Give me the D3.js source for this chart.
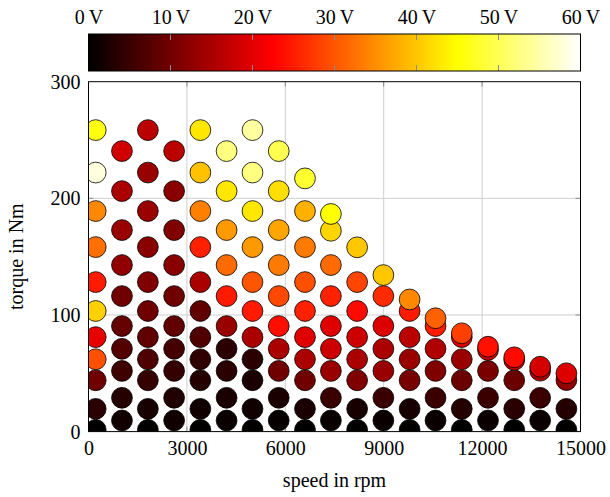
<!DOCTYPE html>
<html>
<head>
<meta charset="utf-8">
<script src="https://cdn.jsdelivr.net/npm/d3@7"></script>
<style>
  body { margin: 0; background: #fff; }
  text { font-family: "Liberation Serif", "DejaVu Serif", serif; }
</style>
</head>
<body>
<div id="chart"></div>
<script>
// operating points: speed of each column (rpm)
const speed = [220, 1020, 1810, 2610, 3410, 4210, 5000, 5800, 6600, 7390,
  8190, 8990, 9790, 10580, 11380, 12180, 12980, 13770, 14570]

// torque of each point in a column (Nm), low to high
const torque = [
  [1.5, 19.5, 44, 62, 81, 103.4, 128.2, 158.2, 189.1, 222.1, 258.5],
  [9.5, 29, 52, 71, 90.5, 116.2, 142.8, 172.8, 206.2, 240.5],
  [1.5, 19.5, 44, 62, 81, 103.4, 128.2, 158.2, 189.1, 222.1, 258.5],
  [9.5, 29, 52, 71, 90.5, 116.2, 142.8, 172.8, 206.2, 240.5],
  [1.5, 19.5, 44, 62, 81, 103.4, 128.2, 158.2, 189.1, 222.1, 258.5],
  [9.5, 29, 52, 71, 90.5, 116.2, 142.8, 172.8, 206.2, 240.5],
  [1.5, 19.5, 44, 62, 81, 103.4, 128.2, 158.2, 189.1, 222.1, 258.5],
  [9.5, 29, 52, 71, 90.5, 116.2, 142.8, 172.8, 206.2, 240.5],
  [1.5, 19.5, 44, 62, 81, 103.4, 128.2, 158.2, 189.1, 217.1],
  [9.5, 29, 52, 71, 90.5, 116.2, 142.8, 172.2, 186.6],
  [1.5, 19.5, 44, 62, 81, 103.4, 128.2, 158],
  [9.5, 29, 52, 71, 90.5, 116.2, 134.2],
  [1.5, 19.5, 44, 62, 81, 103.4, 113.3],
  [9.5, 29, 52, 71, 90.5, 97.2],
  [1.5, 19.5, 44, 62, 81, 84.3],
  [9.5, 29, 52, 70, 72.8],
  [1.5, 19.5, 44, 61.4, 63.7],
  [9.5, 29, 52.2, 55.6],
  [1.5, 19.5, 44.2, 50]
]

// voltage of each point (V), same order as torque
const voltage = [
  [0.3, 3.7, 9.9, 29.6, 20.5, 40.9, 24.8, 32.4, 34.5, 58, 45.8],
  [1.4, 3.3, 5.6, 7.5, 8.9, 9.9, 12.7, 13.5, 15, 18.4],
  [0.3, 1.9, 4.7, 7, 8.5, 9.9, 11.3, 12, 13.5, 13.5, 16.5],
  [1.4, 2.8, 4.7, 6, 8.5, 9.9, 12, 11.3, 12, 16.5],
  [0.3, 1.4, 3.3, 4.2, 7, 8.5, 15, 25.3, 33.8, 39.5, 42.9],
  [0.9, 2.3, 3.7, 3.7, 13.5, 24.8, 31.9, 36, 42.9, 52.5],
  [0.3, 1.4, 2.3, 3.7, 15, 24.8, 30, 36, 42.9, 52.5, 54.4],
  [0.5, 2.3, 9.9, 15, 23.7, 28.9, 33.3, 37.1, 42.2, 49.7],
  [0.3, 2.3, 9.9, 15, 19.8, 25.3, 29.6, 33.3, 38, 47.8],
  [0.9, 5.1, 13.5, 18, 19.8, 25.5, 31.9, 41.3, 45],
  [0.3, 1.9, 11.3, 15, 18, 23.4, 28.6, 40.1],
  [0.9, 5.1, 13.5, 15, 19.5, 26.2, 40.1],
  [0.3, 1.9, 10.5, 13.5, 16.5, 24.8, 34.5],
  [0.9, 5.1, 11.3, 15.5, 24.8, 31],
  [0.3, 3.3, 9.4, 13.5, 19.5, 28.1],
  [0.9, 5.1, 10.8, 18, 23.9],
  [0.3, 3.7, 9.4, 16.5, 23.4],
  [0.9, 5.1, 15, 18.7],
  [0.3, 3.3, 12.7, 19.5]
]

const speedTicks = [0, 3000, 6000, 9000, 12000, 15000]
const torqueTicks = [0, 100, 200, 300]
const voltTicks = [0, 10, 20, 30, 40, 50, 60]

const anchoT = 610
const altoT = 497
const margins = { top: 81.7, right: 29.5, bottom: 65.4, left: 88.5 }
const anc = anchoT - margins.left - margins.right
const alt = altoT - margins.top - margins.bottom
const barTop = 34, barH = 37

const svg = d3.select("#chart").append("svg")
  .attr("width", anchoT)
  .attr("height", altoT)

// hot colormap: black - red - yellow - white
const color = d3.scaleLinear()
  .domain([0, 22.5, 45, 60])
  .range(["#000000", "#ff0000", "#ffff00", "#ffffff"])

const x = d3.scaleLinear().domain([0, 15000]).range([0, anc])
const y = d3.scaleLinear().domain([0, 300]).range([alt, 0])
const v = d3.scaleLinear().domain([0, 60]).range([0, anc])

// flatten into points
const points = []
speed.forEach((s, i) => {
  torque[i].forEach((t, j) => points.push({ speed: s, torque: t, volt: voltage[i][j] }))
})

// ---- colorbar
const defs = svg.append("defs")
const grad = defs.append("linearGradient").attr("id", "hot")
d3.range(0, 61, 2.5).forEach(d => {
  grad.append("stop").attr("offset", (d / 60 * 100) + "%").attr("stop-color", color(d))
})
defs.append("clipPath").attr("id", "clip")
  .append("rect").attr("width", anc).attr("height", alt)

const bar = svg.append("g").attr("transform", "translate(" + margins.left + "," + barTop + ")")
bar.append("rect").attr("width", anc).attr("height", barH).attr("fill", "url(#hot)")
bar.selectAll(".vt").data(voltTicks.slice(1, -1)).enter().append("path")
  .attr("d", d => "M" + v(d) + ",0v6M" + v(d) + "," + barH + "v-6")
  .attr("stroke", "#8c8c8c").attr("stroke-width", 1)
bar.append("rect").attr("width", anc).attr("height", barH)
  .attr("fill", "none").attr("stroke", "#000").attr("stroke-width", 1)
bar.append("g")
  .call(d3.axisTop(v).tickValues(voltTicks).tickSize(0).tickPadding(10)
    .tickFormat(d => d + "\u2009V"))
  .call(g => g.select(".domain").remove())
  .selectAll("text").attr("font-size", 20).attr("fill", "#000")
  .style("font-family", "'Liberation Serif', serif")

// ---- main plot
const plot = svg.append("g").attr("transform", "translate(" + margins.left + "," + margins.top + ")")

// grid
plot.selectAll(".gx").data(speedTicks.slice(1, -1)).enter().append("line")
  .attr("x1", d => x(d)).attr("x2", d => x(d)).attr("y1", 0).attr("y2", alt)
  .attr("stroke", "#cfcfcf").attr("stroke-width", 1)
plot.selectAll(".gy").data(torqueTicks.slice(1, -1)).enter().append("line")
  .attr("x1", 0).attr("x2", anc).attr("y1", d => y(d)).attr("y2", d => y(d))
  .attr("stroke", "#cfcfcf").attr("stroke-width", 1)

// ticks inside, both sides
plot.selectAll(".tx").data(speedTicks.slice(1, -1)).enter().append("path")
  .attr("d", d => "M" + x(d) + ",0v5M" + x(d) + "," + alt + "v-5")
  .attr("stroke", "#8c8c8c")
plot.selectAll(".ty").data(torqueTicks.slice(1, -1)).enter().append("path")
  .attr("d", d => "M0," + y(d) + "h5M" + anc + "," + y(d) + "h-5")
  .attr("stroke", "#8c8c8c")

// dots
plot.append("g").attr("clip-path", "url(#clip)")
  .selectAll("circle").data(points).enter().append("circle")
  .attr("cx", d => x(d.speed))
  .attr("cy", d => y(d.torque))
  .attr("r", 10.4)
  .attr("fill", d => color(d.volt))
  .attr("stroke", "#000")
  .attr("stroke-width", 0.8)

// frame
plot.append("rect").attr("width", anc).attr("height", alt)
  .attr("fill", "none").attr("stroke", "#000").attr("stroke-width", 1)

// axes labels
plot.append("g").attr("transform", "translate(0," + alt + ")")
  .call(d3.axisBottom(x).tickValues(speedTicks).tickSize(0).tickPadding(9).tickFormat(d3.format("d")))
  .call(g => g.select(".domain").remove())
  .selectAll("text").attr("font-size", 20).attr("fill", "#000")
  .style("font-family", "'Liberation Serif', serif")
plot.append("g")
  .call(d3.axisLeft(y).tickValues(torqueTicks).tickSize(0).tickPadding(8))
  .call(g => g.select(".domain").remove())
  .selectAll("text").attr("font-size", 20).attr("fill", "#000")
  .style("font-family", "'Liberation Serif', serif")

svg.append("text")
  .attr("x", margins.left + anc / 2).attr("y", 487)
  .attr("text-anchor", "middle").attr("font-size", 20)
  .text("speed in rpm")
svg.append("text")
  .attr("transform", "translate(23," + (margins.top + alt / 2) + ") rotate(-90)")
  .attr("text-anchor", "middle").attr("font-size", 20)
  .text("torque in Nm")
</script>
</body>
</html>
